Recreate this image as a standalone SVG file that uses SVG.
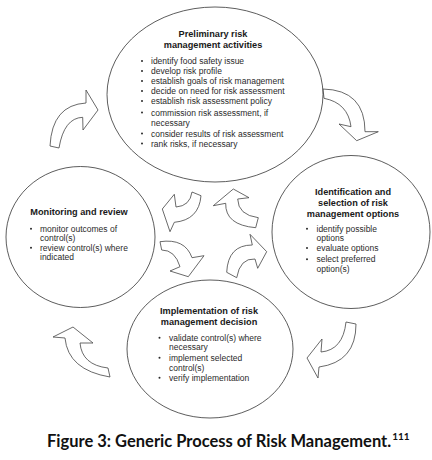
<svg xmlns="http://www.w3.org/2000/svg" width="432" height="460" viewBox="0 0 432 460">
<style>
.node ellipse{fill:#fff;stroke:#333;stroke-width:0.8}
.t{font-family:"Liberation Sans",Arial,sans-serif;font-size:9.2px;font-weight:bold;fill:#1a1a1a;text-anchor:middle}
.b{font-family:"Liberation Sans",Arial,sans-serif;font-size:8.5px;fill:#2a2a2a}
.dot{fill:#2a2a2a}
.arr path{fill:#fff;stroke:#444;stroke-width:0.8;stroke-linejoin:miter}
.cap{font-family:Lato,"Open Sans",sans-serif;font-weight:bold;fill:#111}
</style>
<rect width="432" height="460" fill="#fff"/>

<g id="connectors" class="arr">
  <path d="M50,146 Q52,105 86,103 L86,90 L98,110 L83,130 L82.7,117.3 Q64,118 59,148 Z"/>
  <path d="M323,89 Q365,90 365,131.7 L378.3,131.7 L356.7,140.7 L339,124 L351,126.7 Q348,103 324,98.3 Z"/>
  <path d="M356,324 Q356,362 319,367 L318,378 L307,358 L322,339 L321,352 Q343,350 346,322 Z"/>
  <path d="M110,377 Q68,370 65,338 L53,337 L73,327 L93,343 L80,343 Q82,365 108,368 Z"/>
  <path d="M192,192 Q190,206 176,207 L174.3,194.3 L162.3,209 L170,231.7 L174.3,222.3 Q199,220 201,195.7 Z"/>
  <path d="M255.7,227.7 Q225,225 225.7,203.3 L213.3,205.7 L233.3,189 L249,197.7 L237.7,199 Q238,215 258.3,217.7 Z"/>
  <path d="M160,241.7 Q185,238 192,257.7 L204,255.7 L188.3,276.7 L170,271 L180,266.7 Q175,250 161.7,250 Z"/>
  <path d="M226.7,272.3 Q228,245 252.3,245 L250,234.3 L266.7,251.7 L257.7,268.3 L255,259 Q240,258 236.7,277.7 Z"/>
</g>

<g id="preliminary" class="node">
  <ellipse cx="215" cy="94.5" rx="108" ry="87.5"/>
  <text class="t" x="213" y="37">Preliminary risk</text>
  <text class="t" x="213" y="48">management activities</text>
  <circle class="dot" cx="142" cy="61" r="1"/>
  <text class="b" x="151" y="64">identify food safety issue</text>
  <circle class="dot" cx="142" cy="71" r="1"/>
  <text class="b" x="151" y="74">develop risk profile</text>
  <circle class="dot" cx="142" cy="81" r="1"/>
  <text class="b" x="151" y="84">establish goals of risk management</text>
  <circle class="dot" cx="142" cy="91" r="1"/>
  <text class="b" x="151" y="94">decide on need for risk assessment</text>
  <circle class="dot" cx="142" cy="101" r="1"/>
  <text class="b" x="151" y="104">establish risk assessment policy</text>
  <circle class="dot" cx="142" cy="112.5" r="1"/>
  <text class="b" x="151" y="115.5">commission risk assessment, if</text>
  <text class="b" x="151" y="125.5">necessary</text>
  <circle class="dot" cx="142" cy="133.5" r="1"/>
  <text class="b" x="151" y="136.5">consider results of risk assessment</text>
  <circle class="dot" cx="142" cy="143.5" r="1"/>
  <text class="b" x="151" y="146.5">rank risks, if necessary</text>
</g>

<g id="monitoring" class="node">
  <ellipse cx="80.5" cy="237" rx="74.5" ry="70.5"/>
  <text class="t" x="79" y="215">Monitoring and review</text>
  <circle class="dot" cx="31" cy="228.7" r="1"/>
  <text class="b" x="40" y="231.7">monitor outcomes of</text>
  <text class="b" x="40" y="241">control(s)</text>
  <circle class="dot" cx="31" cy="247.7" r="1"/>
  <text class="b" x="40" y="250.7">review control(s) where</text>
  <text class="b" x="40" y="260">indicated</text>
</g>

<g id="identification" class="node">
  <ellipse cx="351" cy="232" rx="79" ry="76.5"/>
  <text class="t" x="353" y="195">Identification and</text>
  <text class="t" x="353" y="205.5">selection of risk</text>
  <text class="t" x="353" y="216.5">management options</text>
  <circle class="dot" cx="307" cy="228.7" r="1"/>
  <text class="b" x="316.5" y="231.7">identify possible</text>
  <text class="b" x="316.5" y="241">options</text>
  <circle class="dot" cx="307" cy="248" r="1"/>
  <text class="b" x="316.5" y="251">evaluate options</text>
  <circle class="dot" cx="307" cy="259.3" r="1"/>
  <text class="b" x="316.5" y="262.3">select preferred</text>
  <text class="b" x="316.5" y="272.3">option(s)</text>
</g>

<g id="implementation" class="node">
  <ellipse cx="210" cy="349" rx="83" ry="69"/>
  <text class="t" x="209" y="314.3">Implementation of risk</text>
  <text class="t" x="209" y="325">management decision</text>
  <circle class="dot" cx="159.5" cy="337.7" r="1"/>
  <text class="b" x="169" y="340.7">validate control(s) where</text>
  <text class="b" x="169" y="350.3">necessary</text>
  <circle class="dot" cx="159.5" cy="357.7" r="1"/>
  <text class="b" x="169" y="360.7">implement selected</text>
  <text class="b" x="169" y="370.7">control(s)</text>
  <circle class="dot" cx="159.5" cy="377.7" r="1"/>
  <text class="b" x="169" y="380.7">verify implementation</text>
</g>

<g id="caption">
  <text class="cap" x="47" y="447" font-size="16.5">Figure 3: Generic Process of Risk Management.<tspan dx="1" dy="-7.5" font-size="10">111</tspan></text>
</g>
</svg>
